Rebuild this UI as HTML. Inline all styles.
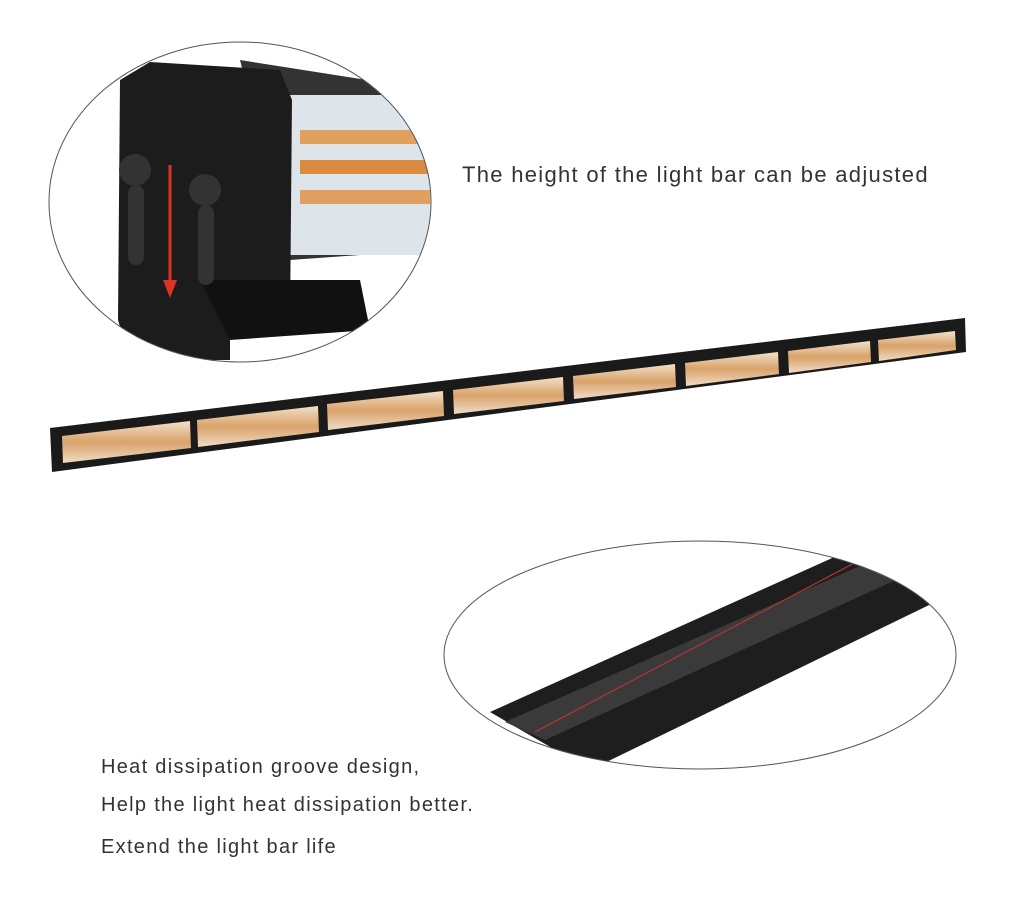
<!DOCTYPE html>
<html><head><meta charset="utf-8"><style>
body{margin:0;background:#fff;width:1023px;height:902px;overflow:hidden;position:relative;font-family:"Liberation Sans",sans-serif;color:#333}
.t{position:absolute;font-size:20px;letter-spacing:1.3px;white-space:nowrap}
</style></head><body>
<svg width="1023" height="902" style="position:absolute;left:0;top:0">
<defs>
<clipPath id="c1"><ellipse cx="240" cy="202" rx="191" ry="160"/></clipPath>
<clipPath id="c2"><ellipse cx="700" cy="655" rx="256" ry="114"/></clipPath>
<linearGradient id="amb" x1="0" y1="0" x2="0" y2="1"><stop offset="0" stop-color="#f3e0c8"/><stop offset="0.5" stop-color="#d9a26a"/><stop offset="1" stop-color="#f0dcc5"/></linearGradient>
</defs>
<g clip-path="url(#c1)">
<rect x="0" y="0" width="500" height="400" fill="#fff"/>
<polygon points="240,60 430,90 430,250 290,260" fill="#333"/>
<rect x="285" y="95" width="150" height="160" fill="#dde4ea"/>
<rect x="300" y="130" width="130" height="14" fill="#e0a060"/>
<rect x="300" y="160" width="130" height="14" fill="#d98c40"/>
<rect x="300" y="190" width="130" height="14" fill="#e0a060"/>
<polygon points="120,80 150,62 280,70 292,100 290,320 230,330 230,360 130,360 118,320" fill="#1c1c1c"/>
<polygon points="200,280 360,280 370,330 230,340" fill="#111"/>
<circle cx="135" cy="170" r="16" fill="#333"/>
<circle cx="205" cy="190" r="16" fill="#333"/>
<rect x="128" y="185" width="16" height="80" rx="8" fill="#333"/>
<rect x="198" y="205" width="16" height="80" rx="8" fill="#333"/>
<line x1="170" y1="165" x2="170" y2="285" stroke="#d32" stroke-width="3"/>
<polygon points="163,280 177,280 170,298" fill="#d32"/>
</g>
<ellipse cx="240" cy="202" rx="191" ry="160" fill="none" stroke="#555" stroke-width="1"/>
<polygon points="50,428 965,318 966,352 52,472" fill="#1a1a1a"/>
<g>
<polygon points="62,436 190,421 191,448 63,463" fill="url(#amb)"/>
<polygon points="197,420 318,406 319,432 198,447" fill="url(#amb)"/>
<polygon points="327,404 443,391 444,416 328,430" fill="url(#amb)"/>
<polygon points="453,390 563,377 564,401 454,414" fill="url(#amb)"/>
<polygon points="573,376 675,364 676,387 574,399" fill="url(#amb)"/>
<polygon points="685,363 778,352 779,374 686,386" fill="url(#amb)"/>
<polygon points="788,351 870,341 871,362 789,373" fill="url(#amb)"/>
<polygon points="878,340 955,331 956,350 879,361" fill="url(#amb)"/>
</g>
<g clip-path="url(#c2)">
<rect x="440" y="535" width="520" height="240" fill="#fff"/>
<polygon points="490,712 850,550 960,590 590,770" fill="#1e1e1e"/>
<polygon points="505,722 860,566 900,578 545,740" fill="#3a3a3a"/>
<line x1="535" y1="732" x2="860" y2="560" stroke="#c33" stroke-width="1"/>
</g>
<ellipse cx="700" cy="655" rx="256" ry="114" fill="none" stroke="#555" stroke-width="1"/>
</svg>
<div class="t" style="left:462px;top:162px;font-size:22px;letter-spacing:1.3px">The height of the light bar can be adjusted</div>
<div class="t" style="left:101px;top:756px">Heat dissipation groove design,</div>
<div class="t" style="left:101px;top:794px">Help the light heat dissipation better.</div>
<div class="t" style="left:101px;top:836px">Extend the light bar life</div>
</body></html>
